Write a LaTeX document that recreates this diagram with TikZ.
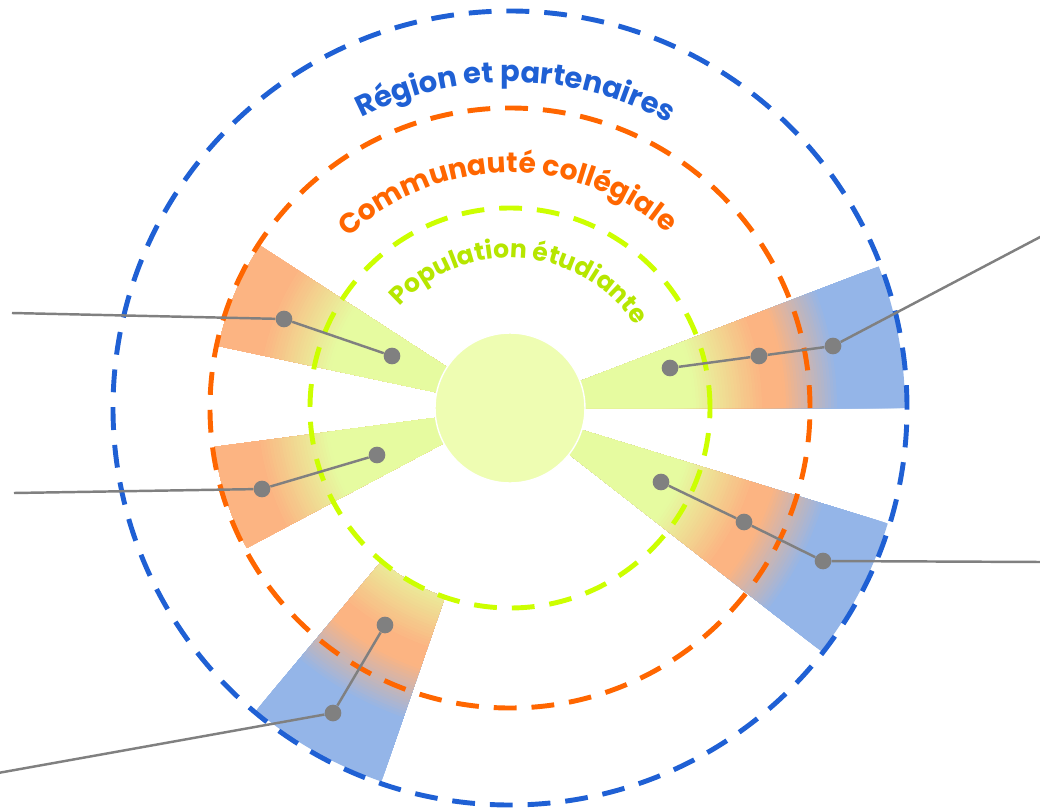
\documentclass[tikz,border=0pt]{standalone}
\usepackage{fontspec}
\newfontfamily\poppins{Poppins}
\usetikzlibrary{decorations.text}

\definecolor{ringblue}{RGB}{31,96,212}
\definecolor{ringorange}{RGB}{255,102,0}
\definecolor{ringgreen}{RGB}{204,255,0}
\definecolor{labelgreen}{RGB}{182,230,0}
\definecolor{wedgegreen}{RGB}{230,251,160}
\definecolor{wedgeorange}{RGB}{252,180,130}
\definecolor{wedgeblue}{RGB}{148,181,232}
\definecolor{hubgreen}{RGB}{238,253,178}
\definecolor{linkgray}{RGB}{128,128,128}

\begin{document}
\begin{tikzpicture}
[x=0.02cm, y=0.02cm,
%%%%%%%%%%%%%%%%%%%%%%%%%%%%%%
ring/.style={line width=2.8pt, dash pattern=on 13pt off 8.5pt},
dot/.style={circle, fill=linkgray, inner sep=0pt, minimum size=9.5pt},
link/.style={draw=linkgray, line width=1.4pt},
ringlabel/.style={decorate, decoration={text along path, text align=center, text color=#1}},
]%%%%%%%%%%%%%%%%%%%%%%%%%%%%%%

\useasboundingbox (-510,-400) rectangle (530,408);

% wedges: angles, radii, where the blue starts
\foreach \a/\b/\rin/\rout/\bs in {147/168/1/298/2000, 187.5/208/1/298/2000, 230/251/200/395/275, 0/21/1/395/275, -38/-17/1/395/275}{
\begin{scope}
\clip (\a:\rin) -- (\a:\rout) arc[start angle=\a, end angle=\b, radius=\rout] -- (\b:\rin) arc[start angle=\b, end angle=\a, radius=\rin] -- cycle;
\foreach \r in {396,393,...,3}{
\pgfmathtruncatemacro\po{min(100,max(0,(\r-185)/0.7))}
\pgfmathtruncatemacro\pb{min(100,max(0,(\r-\bs)/0.55))}
\fill[wedgeblue!\pb!wedgeorange!\po!wedgegreen] (0,0) circle (\r);
}
\end{scope}
}

\node[circle, fill=hubgreen, draw=white, line width=0.8pt, minimum size=3cm] (hub) at (0,0) {};

\draw[ring, ringgreen] (0,0) circle (200);
\draw[ring, ringorange] (0,0) circle (300);
\draw[ring, ringblue] (0,0) circle (397);

\path[ringlabel=ringblue, decoration={text={|\poppins\bfseries\fontsize{16.5}{19}\selectfont|Région et partenaires}}] (179:326) arc[start angle=179, end angle=-1, radius=326];
\path[ringlabel=ringorange, decoration={text={|\poppins\bfseries\fontsize{16}{19}\selectfont|Communauté collégiale}}] (180.7:235) arc[start angle=180.7, end angle=0.7, radius=235];
\path[ringlabel=labelgreen, decoration={text={|\poppins\bfseries\fontsize{14.3}{17}\selectfont|Population étudiante}}] (175.3:150) arc[start angle=175.3, end angle=-4.7, radius=150];

% upper left
\node[dot] (a1) at (-226,89) {};
\node[dot] (a2) at (-118,52) {};
\coordinate (a0) at (-498,95);
\draw[link] (a0) -- (a1) -- (a2);

% middle left
\node[dot] (b1) at (-248,-81) {};
\node[dot] (b2) at (-133,-47) {};
\coordinate (b0) at (-496,-85);
\draw[link] (b0) -- (b1) -- (b2);

% bottom
\node[dot] (c1) at (-125,-217) {};
\node[dot] (c2) at (-177,-305) {};
\coordinate (c0) at (-512,-365);
\draw[link] (c1) -- (c2) -- (c0);

% upper right
\node[dot] (d1) at (160,40) {};
\node[dot] (d2) at (249,52) {};
\node[dot] (d3) at (323,62) {};
\coordinate (d0) at (532,172);
\draw[link] (d1) -- (d2) -- (d3) -- (d0);

% lower right
\node[dot] (f1) at (151,-74) {};
\node[dot] (f2) at (234,-114) {};
\node[dot] (f3) at (313,-153) {};
\coordinate (f0) at (532,-154);
\draw[link] (f1) -- (f2) -- (f3) -- (f0);
\end{tikzpicture}
\end{document}
